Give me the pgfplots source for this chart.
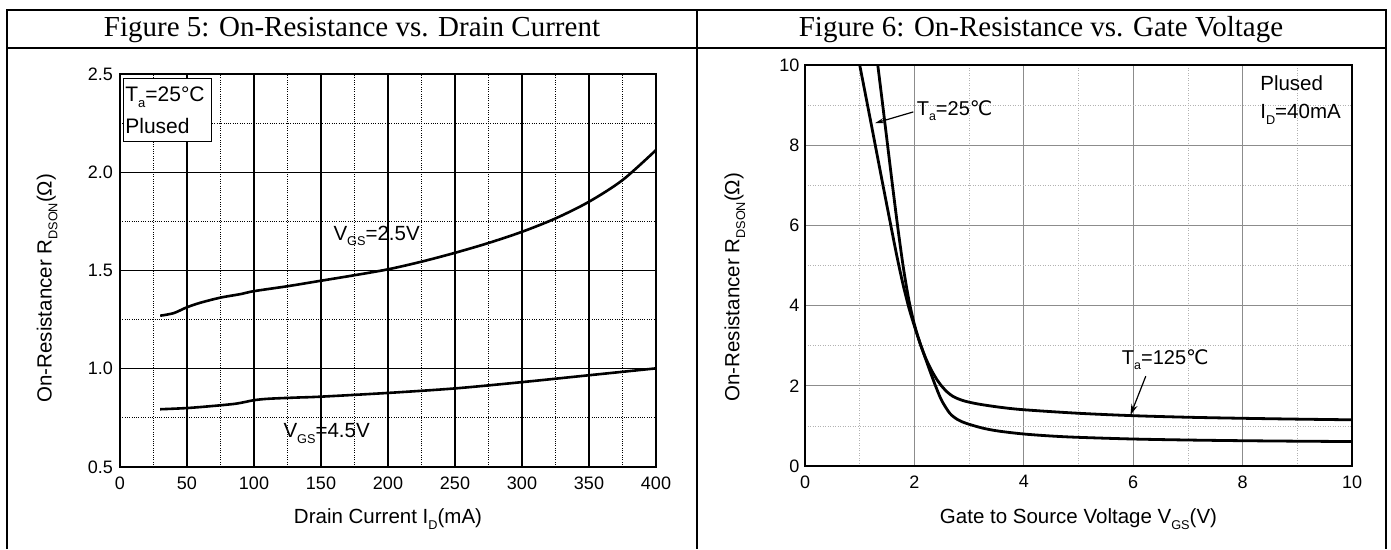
\documentclass[border=0pt]{standalone}
\usepackage{fontspec}
\setmainfont{Liberation Sans}
\newfontfamily\titlefont{Liberation Serif}
\newfontfamily\dejavu{DejaVu Sans}
\usepackage{graphicx}
\usepackage{pgfplots}
\pgfplotsset{compat=1.18}
\usetikzlibrary{arrows.meta}
\newcommand\sub[1]{\raisebox{-0.28em}{\scalebox{0.62}{#1}}}
\newcommand\degC{{\dejavu ℃}}

\begin{document}
\begin{tikzpicture}
\useasboundingbox (0pt,0pt) rectangle (1391pt,-549pt);
% table frame
\draw[line width=2pt] (7pt,-549pt) -- (7pt,-10pt) -- (1386pt,-10pt) -- (1386pt,-549pt);
\draw[line width=2pt] (7pt,-48pt) -- (1386pt,-48pt);
\draw[line width=2pt] (697pt,-10pt) -- (697pt,-549pt);
\node[font=\titlefont\fontsize{29}{32}\selectfont] at (352pt,-30pt) {Figure 5: On-Resistance vs. Drain Current};
\node[font=\titlefont\fontsize{29}{32}\selectfont] at (1041pt,-30pt) {Figure 6: On-Resistance vs. Gate Voltage};

% ---------------- Figure 5 ----------------
\begin{axis}[
  at={(120pt,-467pt)}, anchor=south west,
  scale only axis, width=536pt, height=393pt,
  xmin=0, xmax=400, ymin=0.5, ymax=2.5,
  xtick={0,50,100,150,200,250,300,350,400},
  ytick={0.5,1,1.5,2,2.5},
  minor xtick={25,75,125,175,225,275,325,375},
  minor ytick={0.75,1.25,1.75,2.25},
  grid=both,
  major grid style={black, line width=1.1pt},
  minor grid style={black, line width=0.8pt, dash pattern=on 0.9pt off 1.4pt},
  major tick length=0pt, minor tick length=0pt,
  axis line style={line width=2.2pt},
  /pgf/number format/assume math mode=true,
  ticklabel style={font=\fontsize{18}{20}\selectfont},
  yticklabel style={/pgf/number format/.cd, fixed, fixed zerofill, precision=1},
  xticklabel shift=6pt, yticklabel shift=3.5pt,
  xlabel={Drain Current I\sub{D}(mA)},
  ylabel={On-Resistancer R\sub{DSON}(Ω)},
  label style={font=\fontsize{20.5}{24}\selectfont},
  xlabel style={at={(axis description cs:0.5,-0.132)}, anchor=center},
  ylabel style={at={(axis description cs:-0.136,0.455)}, anchor=center},
]
\addplot[black, line width=2.6pt, smooth, tension=0.5] coordinates {
 (30,1.27) (40,1.283) (50,1.313) (60,1.336) (75,1.362) (90,1.38) (100,1.395)
 (125,1.42) (150,1.448) (175,1.476) (200,1.506) (225,1.545) (250,1.59)
 (275,1.64) (300,1.697) (325,1.765) (350,1.85) (375,1.96) (400,2.113)
};
\addplot[black, line width=2.6pt, smooth, tension=0.5] coordinates {
 (30,0.794) (50,0.80) (70,0.811) (85,0.821) (92,0.829) (100,0.840) (110,0.847)
 (130,0.853) (150,0.858) (200,0.877) (250,0.90) (300,0.932) (350,0.967) (400,1.002)
};
\node[draw, line width=1.3pt, fill=white, anchor=north west, text width=84pt,
      align=left, inner xsep=2pt, inner ysep=3pt, minimum height=63pt,
      font=\fontsize{21}{32}\selectfont] at (axis description cs:0.005,0.99)
      {T\sub{a}=25°C\\Plused};
\node[anchor=base west, font=\fontsize{20.5}{24}\selectfont] at (axis cs:156.7,1.655) {V\sub{GS}=2.5V};
\node[anchor=base west, font=\fontsize{20.5}{24}\selectfont] at (axis cs:119.4,0.651) {V\sub{GS}=4.5V};
\end{axis}

% ---------------- Figure 6 ----------------
\begin{axis}[
  at={(805pt,-466pt)}, anchor=south west,
  scale only axis, width=547pt, height=401pt,
  xmin=0, xmax=10, ymin=0, ymax=10,
  xtick={0,2,4,6,8,10}, ytick={0,2,4,6,8,10},
  minor xtick={1,3,5,7,9}, minor ytick={1,3,5,7,9},
  grid=both,
  major grid style={black!45, line width=1.1pt},
  minor grid style={black!30, line width=0.8pt, dash pattern=on 1pt off 1.5pt},
  major tick length=0pt, minor tick length=0pt,
  axis line style={line width=2.4pt},
  /pgf/number format/assume math mode=true,
  ticklabel style={font=\fontsize{18}{20}\selectfont},
  xticklabel shift=6pt, yticklabel shift=2pt,
  xlabel={Gate to Source Voltage V\sub{GS}(V)},
  ylabel={On-Resistancer R\sub{DSON}(Ω)},
  label style={font=\fontsize{20.5}{24}\selectfont},
  xlabel style={at={(axis description cs:0.5,-0.132)}, anchor=center},
  ylabel style={at={(axis description cs:-0.128,0.446)}, anchor=center},
]
% Ta = 25 C
\addplot[black, line width=2.8pt, smooth, tension=0.5] coordinates {
 (1.0,10) (1.2,8.6) (1.4,7.18) (1.6,5.78) (1.7,5.10) (1.8,4.48) (1.9,3.94)
 (2.0,3.49) (2.1,3.08) (2.2,2.69) (2.3,2.31) (2.4,1.95) (2.5,1.63) (2.65,1.31)
 (2.8,1.15) (2.96,1.058) (3.26,0.941) (3.56,0.867) (4.0,0.798) (4.5,0.748)
 (5.0,0.715) (6.0,0.673) (7.0,0.648) (8.0,0.631) (9.0,0.619) (10,0.61)
};
% Ta = 125 C
\addplot[black, line width=2.8pt, smooth, tension=0.5] coordinates {
 (1.33,10) (1.4,9.23) (1.5,8.11) (1.6,6.99) (1.7,5.91) (1.8,4.93) (1.9,4.13)
 (2.0,3.53) (2.1,3.07) (2.2,2.71) (2.3,2.42) (2.4,2.18) (2.5,1.99) (2.6,1.845)
 (2.7,1.74) (2.8,1.675) (2.9,1.627) (3.0,1.592) (3.2,1.538) (3.56,1.466)
 (4.0,1.403) (5.0,1.315) (6.0,1.255) (7.0,1.216) (8.0,1.19) (9.0,1.169) (10,1.152)
};
\node[anchor=base west, font=\fontsize{20}{24}\selectfont] at (axis cs:1.98,8.75) {T\sub{a}=25\degC};
\draw[line width=1.2pt, -{Stealth[length=9pt,width=5pt]}] (axis cs:1.98,8.83) -- (axis cs:1.28,8.55);
\node[anchor=base west, font=\fontsize{20}{24}\selectfont] at (axis cs:5.73,2.54) {T\sub{a}=125\degC};
\draw[line width=1.2pt, -{Stealth[length=11pt,width=6.5pt]}] (axis cs:6.23,2.24) -- (axis cs:5.95,1.27);
\node[anchor=base west, font=\fontsize{20.5}{24}\selectfont] at (axis cs:8.26,9.36) {Plused};
\node[anchor=base west, font=\fontsize{20.5}{24}\selectfont] at (axis cs:8.26,8.67) {I\sub{D}=40mA};
\end{axis}
\end{tikzpicture}
\end{document}
